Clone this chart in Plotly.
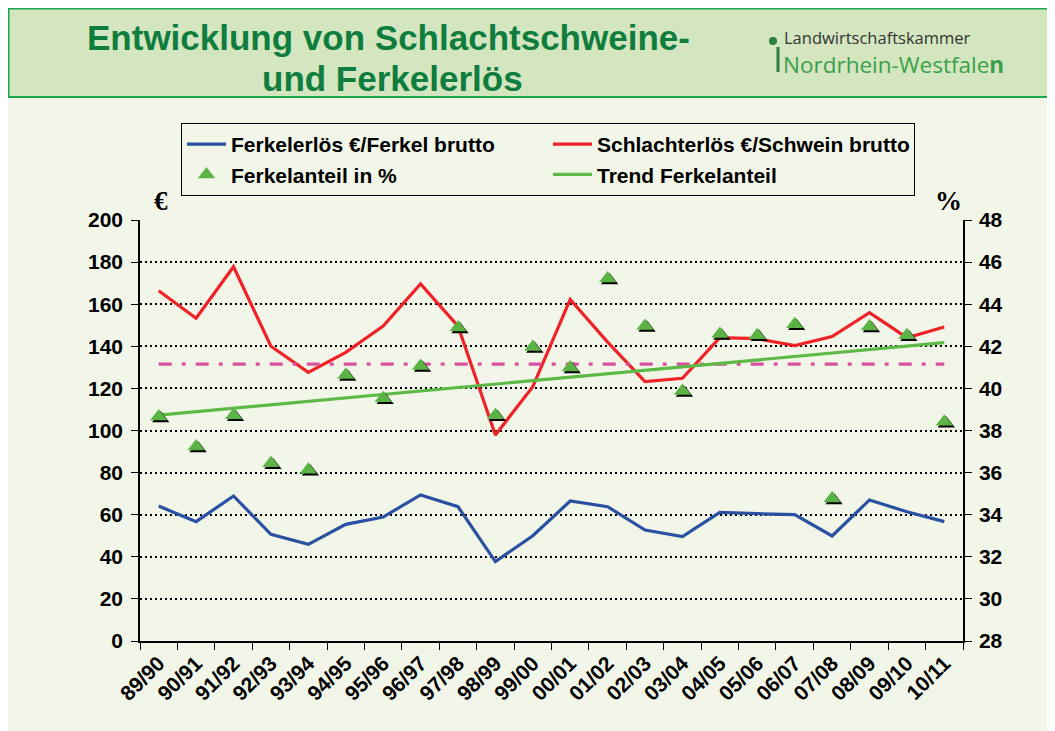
import numpy as np
import plotly.graph_objects as go

# ---------------- data ----------------
jahre = ["89/90", "90/91", "91/92", "92/93", "93/94", "94/95", "95/96", "96/97",
         "97/98", "98/99", "99/00", "00/01", "01/02", "02/03", "03/04", "04/05",
         "05/06", "06/07", "07/08", "08/09", "09/10", "10/11"]
ferkelerloes = [64.1, 56.7, 68.9, 50.7, 45.9, 55.4, 58.9, 69.4, 63.8, 37.7, 50.0,
                66.5, 63.8, 52.7, 49.6, 61.1, 60.5, 60.0, 49.9, 67.0, 61.4, 56.7]
schlachterloes = [166.4, 153.3, 177.8, 140.0, 127.6, 137.1, 149.6, 169.6, 149.6, 97.9, 120.8,
                  162.3, 142.0, 123.2, 124.8, 144.1, 143.6, 140.3, 144.6, 156.0, 144.1, 149.2]
ferkelanteil = [38.75, 37.33, 38.82, 36.54, 36.22, 40.73, 39.62, 41.16, 42.98, 38.82, 42.06,
                41.08, 45.31, 43.06, 39.97, 42.67, 42.62, 43.14, 34.86, 43.03, 42.62, 38.51]
referenzlinie = 131.5          # dash-dot line, left axis (EUR)
y_left_ticks = list(range(0, 201, 20))
y_right_ticks = list(range(28, 49, 2))

# linear trend of the piglet share (as in the original "Trend Ferkelanteil")
idx = np.arange(len(ferkelanteil))
slope, intercept = np.polyfit(idx, ferkelanteil, 1)
trend = list(intercept + slope * idx)

# ---------------- geometry helpers (layout only, page pixel coords) ----------------
OFF = 8                      # default body margin of the html page
PW, PH = 1055, 731           # page size
W, H = PW - OFF, PH - OFF    # figure size
L, R, T, B = 140, 963, 220, 641
def px(xp):
    return (xp - L) / (R - L)
def py(yp):
    return (B - yp) / (B - T)

FONT = "Liberation Sans, Arial, sans-serif"
BG = "#F2F6E8"

fig = go.Figure()

fig.add_trace(go.Scatter(x=jahre, y=ferkelerloes, mode="lines", name="Ferkelerlös €/Ferkel brutto",
                         line=dict(color="#2A50A2", width=3.2), yaxis="y", legendrank=1))
fig.add_trace(go.Scatter(x=jahre, y=schlachterloes, mode="lines", name="Schlachterlös €/Schwein brutto",
                         line=dict(color="#EE2227", width=3.2), yaxis="y", legendrank=2))
fig.add_trace(go.Scatter(x=[jahre[0], jahre[-1]], y=[referenzlinie, referenzlinie], mode="lines",
                         showlegend=False, hoverinfo="skip",
                         line=dict(color="#D9509E", width=3.3, dash="13px,10px,4px,10px"), yaxis="y"))
fig.add_trace(go.Scatter(x=jahre, y=trend, mode="lines", name="Trend Ferkelanteil",
                         line=dict(color="#5DB946", width=3.2), xaxis="x", yaxis="y2", legendrank=4))
# shadow of triangles (hidden, slightly shifted axes)
fig.add_trace(go.Scatter(x=jahre, y=ferkelanteil, mode="markers", showlegend=False, hoverinfo="skip",
                         marker=dict(symbol="triangle-up", size=15, color="black"),
                         xaxis="x2", yaxis="y3"))
fig.add_trace(go.Scatter(x=jahre, y=ferkelanteil, mode="markers", name="Ferkelanteil in %",
                         marker=dict(symbol="triangle-up", size=15, color="#5BB346"),
                         xaxis="x3", yaxis="y4", legendrank=3))

n = len(jahre)
cat_px = (R - L) / n
dx = 2.0 / cat_px
yr_px = (B - T) / 20.0
dy_sh = 2.0 / yr_px + 1.9 / yr_px
dy_tr = 1.9 / yr_px

tickfont = dict(family=FONT, size=21, color="black", weight="bold")

fig.update_layout(
    width=W, height=H,
    margin=dict(l=L - OFF, r=PW - R, t=T - OFF, b=PH - B, pad=0),
    paper_bgcolor=BG, plot_bgcolor=BG,
    showlegend=True,
    legend=dict(orientation="h", x=px(181), y=py(123), xanchor="left", yanchor="top",
                bgcolor="rgba(0,0,0,0)", bordercolor="black", borderwidth=1,
                font=dict(family=FONT, size=21, color="black", weight="bold"),
                entrywidth=312, traceorder="normal", itemwidth=39),
    xaxis=dict(type="category", categoryorder="array", categoryarray=jahre, range=[-0.5, n - 0.5],
               tickson="boundaries", ticks="outside", ticklen=7, tickcolor="black", tickwidth=1.2,
               showline=True, linecolor="black", linewidth=1.5, showgrid=False,
               tickangle=-45, tickfont=tickfont),
    xaxis2=dict(type="category", categoryorder="array", categoryarray=jahre, overlaying="x",
                range=[-0.5 - dx, n - 0.5 - dx], visible=False),
    xaxis3=dict(type="category", categoryorder="array", categoryarray=jahre, overlaying="x",
                range=[-0.5, n - 0.5], visible=False),
    yaxis=dict(range=[0, 200], tickvals=y_left_ticks, ticks="outside", ticklen=7, tickcolor="black",
               showline=True, linecolor="black", linewidth=1.5, zeroline=False,
               showgrid=True, gridcolor="black", gridwidth=1.6, griddash="2px,3px",
               tickfont=tickfont, ticklabelstandoff=4),
    yaxis2=dict(range=[28, 48], tickvals=y_right_ticks, overlaying="y", side="right",
                ticks="outside", ticklen=7, tickcolor="black",
                showline=True, linecolor="black", linewidth=1.5, zeroline=False, showgrid=False,
                tickfont=tickfont, ticklabelstandoff=3),
    yaxis3=dict(range=[28 + dy_sh, 48 + dy_sh], overlaying="y", visible=False),
    yaxis4=dict(range=[28 + dy_tr, 48 + dy_tr], overlaying="y", visible=False),
)

shapes = [
    # header band
    dict(type="rect", xref="paper", yref="paper", x0=px(OFF + 0.5), x1=px(PW + 10), y0=py(97), y1=py(OFF + 0.5),
         fillcolor="#D3E6C0", line=dict(color="#1FA54C", width=2), layer="below"),
    # logo marks
    dict(type="circle", xref="paper", yref="paper", x0=px(769), x1=px(777), y0=py(45), y1=py(37),
         fillcolor="#2E7F3C", line=dict(width=0)),
    dict(type="line", xref="paper", yref="paper", x0=px(778), x1=px(778), y0=py(47), y1=py(72),
         line=dict(color="#2E7F3C", width=3)),
]
fig.update_layout(shapes=shapes)

annos = [
    dict(text="Entwicklung von Schlachtschweine-", x=px(388), y=py(37),
         font=dict(family=FONT, size=35, color="#0E7D3D", weight="bold")),
    dict(text="und Ferkelerlös", x=px(392), y=py(78),
         font=dict(family=FONT, size=35, color="#0E7D3D", weight="bold")),
    dict(text="Landwirtschaftskammer", x=px(782), y=py(38), xanchor="left",
         font=dict(family="Open Sans, sans-serif", size=16.5, color="#333333")),
    dict(text="Nordrhein-Westfale<b>n</b>", x=px(781), y=py(64), xanchor="left",
         font=dict(family="Open Sans, sans-serif", size=22.5, color="#3CA04B")),
    dict(text="€", x=px(161), y=py(201),
         font=dict(family="Liberation Serif, serif", size=27, color="black", weight="bold")),
    dict(text="%", x=px(948), y=py(201),
         font=dict(family="Liberation Serif, serif", size=27, color="black", weight="bold")),
]
for a in annos:
    a.setdefault("xanchor", "center")
    a.update(xref="paper", yref="paper", yanchor="middle", showarrow=False)
fig.update_layout(annotations=annos)

fig.write_html("out.html")
